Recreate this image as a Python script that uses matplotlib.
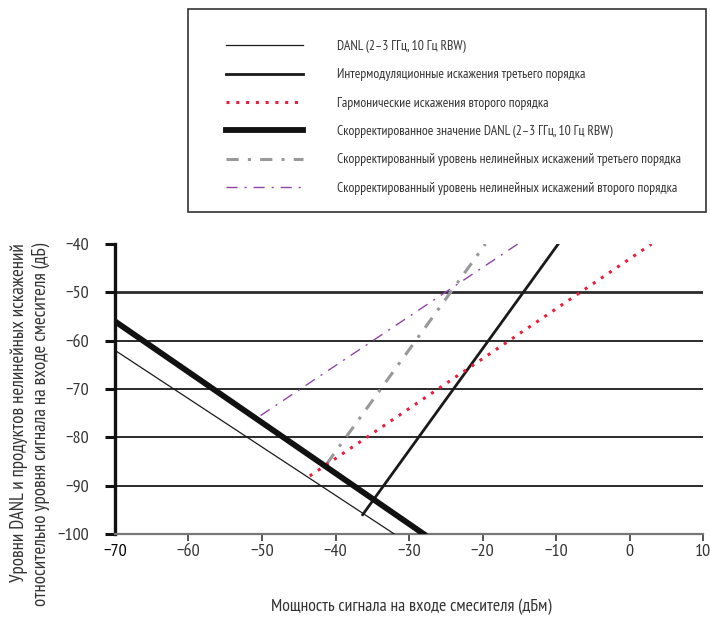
import matplotlib
matplotlib.use('Agg')
import matplotlib.pyplot as plt
from matplotlib.patches import Rectangle

plt.rcParams['font.family'] = ['PT Sans Narrow', 'Fira Sans Extra Condensed', 'DejaVu Sans']

# endpoints of each characteristic: input power (dBm) and level (dB)
danl_x = [-70, -32]
danl_y = [-62, -100]
im3_x = [-36.3, -9.7]
im3_y = [-96, -40]
shd_x = [-43.5, 3]
shd_y = [-88, -40]
danl_corr_x = [-70, -28]
danl_corr_y = [-56, -100]
im3_corr_x = [-41.2, -19.6]
im3_corr_y = [-85.5, -40]
shd_corr_x = [-50.2, -15.2]
shd_corr_y = [-75.5, -40]

labels = [
    'DANL (2–3 ГГц, 10 Гц RBW)',
    'Интермодуляционные искажения третьего порядка',
    'Гармонические искажения второго порядка',
    'Скорректированное значение DANL (2–3 ГГц, 10 Гц RBW)',
    'Скорректированный уровень нелинейных искажений третьего порядка',
    'Скорректированный уровень нелинейных искажений второго порядка',
]
xticks = [-70, -60, -50, -40, -30, -20, -10, 0, 10]
yticks = [-40, -50, -60, -70, -80, -90, -100]

fig = plt.figure(figsize=(7.1, 6.18), dpi=100)
ax = fig.add_axes([115 / 710, 1 - 534 / 618, 588 / 710, 290 / 618])

# horizontal reference lines
for y in yticks[1:-1]:
    ax.axhline(y, color='#2b2b2b', lw=2.0 if y == -50 else 1.4, zorder=1)

h1, = ax.plot(danl_x, danl_y, color='#1a1a1a', lw=0.9, zorder=3)
h2, = ax.plot(im3_x, im3_y, color='#1a1a1a', lw=2.0, zorder=3)
h3, = ax.plot(shd_x, shd_y, color='#ea1d3d', lw=2.2, dashes=(1, 2.2), zorder=3)
h4, = ax.plot(danl_corr_x, danl_corr_y, color='#111111', lw=4.2, zorder=4)
h5, = ax.plot(im3_corr_x, im3_corr_y, color='#999999', lw=2.2,
              dashes=(4, 3, 1, 3), zorder=2)
h6, = ax.plot(shd_corr_x, shd_corr_y, color='#8e44a8', lw=1.0,
              dashes=(8, 5, 1.5, 5), zorder=2)

ax.set_xlim(-70, 10)
ax.set_ylim(-100, -40)
ax.set_xticks(xticks)
ax.set_yticks(yticks)
ax.set_xticklabels([f'{v}'.replace('-', '\u2212') for v in xticks])
ax.set_yticklabels([f'{v}'.replace('-', '\u2212') for v in yticks])

for s in ['top', 'right']:
    ax.spines[s].set_visible(False)
ax.spines['left'].set_linewidth(2.4)
ax.spines['left'].set_color('#111111')
ax.spines['bottom'].set_linewidth(1.6)
ax.spines['bottom'].set_color('#777777')
ax.tick_params(axis='y', direction='out', length=7, width=2.2, color='#111111',
               pad=12, labelsize=13, labelcolor='#333333')
ax.tick_params(axis='x', direction='out', length=5, width=1.4, color='#555555',
               pad=2, labelsize=13, labelcolor='#333333')
ax.xaxis.get_major_ticks()[0].tick1line.set_visible(False)
ax.get_xticklabels()[0].set_color('#000000')

fig.text(411 / 710, 1 - 607 / 618, 'Мощность сигнала на входе смесителя (дБм)',
         ha='center', va='center', fontsize=12.8, color='#333333')
fig.text(30 / 710, 1 - 243 / 618,
         'Уровни DANL и продуктов нелинейных искажений\n'
         'относительно уровня сигнала на входе смесителя (дБ)',
         rotation=90, ha='center', va='top', multialignment='right',
         fontsize=13.6, color='#333333', linespacing=1.3)

# legend box
fig.add_artist(Rectangle((188 / 710, 1 - 212 / 618), 518 / 710, 202.5 / 618,
                         transform=fig.transFigure, fill=False,
                         ec='#333333', lw=1.2))
leg = fig.legend([h1, h2, h3, h4, h5, h6], labels,
                 loc='upper left', bbox_to_anchor=(226 / 710, 1 - 40 / 618),
                 fontsize=9.85, frameon=False, borderpad=0, borderaxespad=0,
                 labelspacing=1.12, handlelength=5.6, handletextpad=2.5)
for t in leg.get_texts():
    t.set_color('#333333')

fig.savefig('out.png', dpi=100)
